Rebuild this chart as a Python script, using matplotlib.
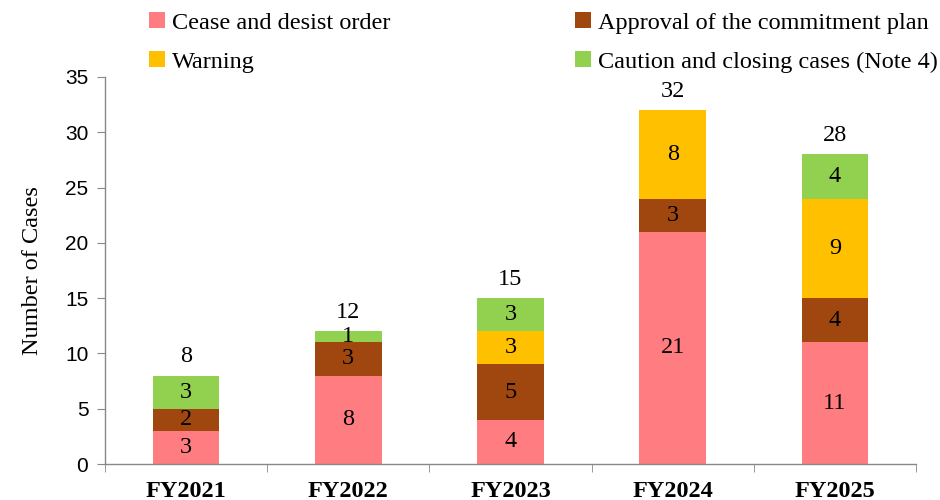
import matplotlib.pyplot as plt
from matplotlib.patches import Patch
from matplotlib.ticker import FixedLocator
import numpy as np

years = ["FY2021", "FY2022", "FY2023", "FY2024", "FY2025"]
cease = [3, 8, 4, 21, 11]
approval = [2, 3, 5, 3, 4]
warning = [0, 0, 3, 8, 9]
caution = [3, 1, 3, 0, 4]

series = [
    ("Cease and desist order", cease, "#FF7C80"),
    ("Approval of the commitment plan", approval, "#A0470F"),
    ("Warning", warning, "#FFC000"),
    ("Caution and closing cases (Note 4)", caution, "#92D050"),
]

serif = "Liberation Serif"
sans = "Liberation Sans"

fig = plt.figure(figsize=(9.4, 5.0), dpi=100)
ax = fig.add_axes([0.1117, 0.072, 0.8628, 0.774])

x = np.arange(len(years))
bottom = np.zeros(len(years))
for name, vals, color in series:
    vals = np.array(vals)
    ax.bar(x, vals, width=0.41, bottom=bottom, color=color, label=name)
    for i, v in enumerate(vals):
        if v > 0:
            ax.text(x[i], bottom[i] + v / 2, str(v), ha="center", va="center",
                    fontsize=17.5, family=serif)
    bottom += vals

# totals above each bar
for i, t in enumerate(bottom):
    ax.annotate(str(int(t)), (x[i], t), xytext=(0, 6), textcoords="offset points",
                ha="center", va="bottom", fontsize=17.5, family=serif)

ax.set_xlim(-0.5, len(years) - 0.5)
ax.set_ylim(0, 35)
ax.set_yticks(range(0, 36, 5))
ax.set_yticklabels([str(v) for v in range(0, 36, 5)], family=sans, fontsize=15)
ax.set_xticks(x)
ax.set_xticklabels(years, family=serif, fontsize=17.5, fontweight="bold")
ax.tick_params(axis="x", which="major", length=0, pad=12)
ax.xaxis.set_minor_locator(FixedLocator(np.arange(-0.5, len(years), 1.0)))
ax.tick_params(axis="x", which="minor", length=6, color="#888888", direction="out")
ax.tick_params(axis="y", length=6, color="#888888", direction="out", pad=6)

for side in ["top", "right"]:
    ax.spines[side].set_visible(False)
for side in ["left", "bottom"]:
    ax.spines[side].set_color("#888888")
    ax.spines[side].set_linewidth(1.0)

ax.set_ylabel("Number of Cases", family=serif, fontsize=17.5, labelpad=16)

order = [0, 2, 1, 3]
handles = [Patch(facecolor=series[k][2], label=series[k][0]) for k in order]
fig.legend(handles=handles, ncol=2, loc="upper left", bbox_to_anchor=(0.135, 1.02),
           frameon=False, prop={"family": serif, "size": 17.5},
           handlelength=0.65, handleheight=0.65, handletextpad=0.3,
           labelspacing=0.72, columnspacing=7.6)

fig.savefig("out.png", dpi=100)
